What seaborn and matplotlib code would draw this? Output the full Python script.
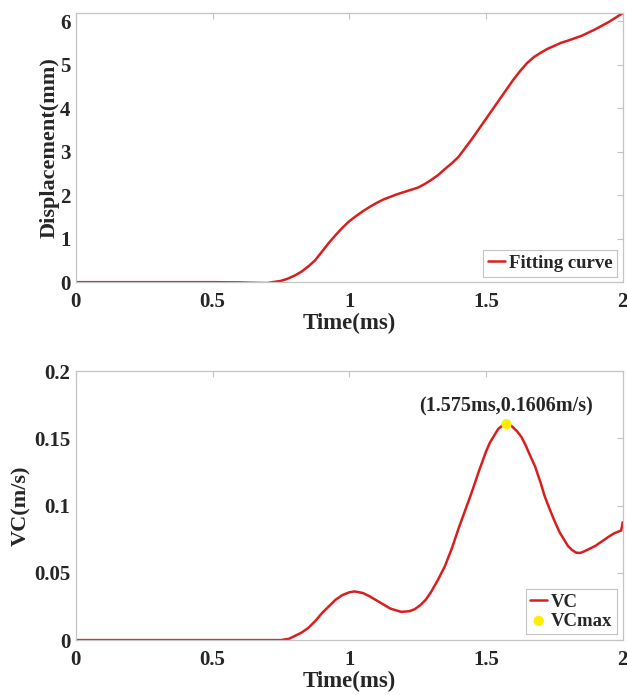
import numpy as np
import pandas as pd
import matplotlib
matplotlib.use("Agg")
import matplotlib.pyplot as plt
import seaborn as sns

# displacement fitting curve
t_disp = [0.0, 0.5, 0.6, 0.65, 0.7, 0.75, 0.775, 0.8, 0.825, 0.85, 0.875, 0.9, 0.925, 0.95,
          0.975, 1.0, 1.025, 1.05, 1.075, 1.1, 1.125, 1.15, 1.175, 1.2, 1.225, 1.25, 1.275,
          1.3, 1.325, 1.35, 1.375, 1.4, 1.45, 1.5, 1.55, 1.6, 1.625, 1.65, 1.675, 1.7,
          1.725, 1.75, 1.775, 1.8, 1.85, 1.9, 1.95, 2.0]
disp = [0.0, 0.0, -0.005, -0.015, -0.02, 0.03, 0.08, 0.15, 0.24, 0.36, 0.5, 0.7, 0.9, 1.08,
        1.25, 1.4, 1.52, 1.63, 1.73, 1.82, 1.9, 1.96, 2.02, 2.07, 2.12, 2.17, 2.25,
        2.35, 2.46, 2.6, 2.73, 2.88, 3.3, 3.75, 4.2, 4.65, 4.85, 5.03, 5.17, 5.27,
        5.36, 5.43, 5.5, 5.55, 5.66, 5.81, 5.98, 6.18]

# viscous criterion curve
t_vc = [0.0, 0.75, 0.78, 0.8, 0.825, 0.85, 0.875, 0.9, 0.925, 0.95, 0.975, 1.0, 1.02, 1.05,
        1.075, 1.1, 1.125, 1.15, 1.17, 1.19, 1.22, 1.24, 1.26, 1.28, 1.3, 1.325, 1.35,
        1.375, 1.4, 1.425, 1.45, 1.475, 1.5, 1.515, 1.53, 1.545, 1.56, 1.575, 1.59, 1.6,
        1.615, 1.63, 1.645, 1.66, 1.68, 1.7, 1.715, 1.73, 1.75, 1.77, 1.785, 1.8, 1.815,
        1.83, 1.845, 1.86, 1.875, 1.9, 1.925, 1.95, 1.97, 1.995, 2.0]
vc = [0.0, 0.0, 0.001, 0.003, 0.0055, 0.009, 0.014, 0.02, 0.025, 0.03, 0.0335, 0.0355,
      0.0362, 0.035, 0.0325, 0.0295, 0.0265, 0.0235, 0.0222, 0.021, 0.0215, 0.023, 0.026,
      0.03, 0.036, 0.045, 0.055, 0.068, 0.083, 0.097, 0.111, 0.126, 0.14, 0.147, 0.152,
      0.157, 0.1595, 0.1606, 0.1598, 0.158, 0.155, 0.151, 0.145, 0.138, 0.129, 0.117,
      0.107, 0.099, 0.089, 0.08, 0.075, 0.07, 0.067, 0.065, 0.0648, 0.066, 0.0675, 0.07,
      0.0735, 0.077, 0.0795, 0.0815, 0.0876]

vc_max_t = [1.575]
vc_max = [0.1606]

sns.set_theme(style="white")
plt.rcParams["font.family"] = ["Liberation Serif", "DejaVu Serif"]
plt.rcParams["font.weight"] = "bold"
plt.rcParams["axes.labelweight"] = "bold"

red = "#d91e1e"
grey = "#c4c4c4"

fig = plt.figure(figsize=(6.27, 6.95), dpi=100)
ax1 = fig.add_axes([0.121, 0.594, 0.872, 0.387])
ax2 = fig.add_axes([0.121, 0.079, 0.872, 0.387])

df1 = pd.DataFrame({"t": t_disp, "d": disp})
sns.lineplot(data=df1, x="t", y="d", ax=ax1, color=red, linewidth=1.8,
             label="Fitting curve", sort=False)

df2 = pd.DataFrame({"t": t_vc, "v": vc})
sns.lineplot(data=df2, x="t", y="v", ax=ax2, color=red, linewidth=1.8,
             label="VC", sort=False)
sns.scatterplot(x=vc_max_t, y=vc_max, ax=ax2, color="#ffee00", s=55,
                edgecolor="none", label="VCmax", zorder=5)
ax2.text(1.575, 0.166, "(1.575ms,0.1606m/s)", ha="center", va="bottom",
         fontsize=14.5, fontweight="bold")

ax1.set_ylim(0, 6.18)
ax1.set_yticks([0, 1, 2, 3, 4, 5, 6])
ax1.set_ylabel("Displacement(mm)", fontsize=16, labelpad=0)

ax2.set_ylim(0, 0.2)
ax2.set_yticks([0, 0.05, 0.1, 0.15, 0.2])
ax2.set_yticklabels(["0", "0.05", "0.1", "0.15", "0.2"])
ax2.set_ylabel("VC(m/s)", fontsize=16, labelpad=2)

for ax in (ax1, ax2):
    ax.set_xlim(0, 2)
    ax.set_xticks([0, 0.5, 1, 1.5, 2])
    ax.set_xticklabels(["0", "0.5", "1", "1.5", "2"])
    ax.set_xlabel("Time(ms)", fontsize=16.5, labelpad=1)
    ax.tick_params(direction="in", length=4, width=0.8, color=grey,
                   labelsize=15, top=True, right=True)
    ax.tick_params(axis="x", pad=7)
    ax.tick_params(axis="y", pad=4)
    for lab in ax.get_xticklabels() + ax.get_yticklabels():
        lab.set_fontweight("bold")
    for sp in ax.spines.values():
        sp.set_color(grey)
        sp.set_linewidth(0.9)
    leg = ax.legend(loc="lower right", fontsize=13.5, handlelength=0.9,
                    handletextpad=0.2, borderpad=0.25, labelspacing=0.1,
                    fancybox=False, framealpha=1, borderaxespad=0.3)
    leg.get_frame().set_edgecolor(grey)
    leg.get_frame().set_linewidth(0.8)

fig.savefig("out.png", dpi=100)
